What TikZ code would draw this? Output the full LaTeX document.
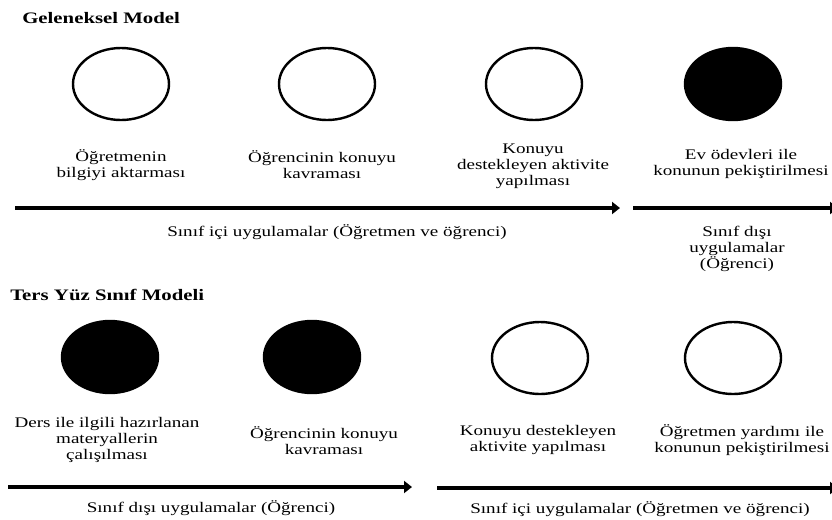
\documentclass[tikz,border=0pt]{standalone}
\usepackage{fontspec}
\setmainfont{Liberation Serif}[FakeStretch=1.3]
\usetikzlibrary{positioning, arrows.meta, shapes.geometric}

\begin{document}
\begin{tikzpicture}[
  x=0.75pt, y=-0.75pt,
  font=\fontsize{11}{12}\selectfont,
  stage/.style={ellipse, draw, line width=1.8pt, minimum width=72pt, minimum height=54pt, fill=white},
  homework/.style={stage, fill=black},
  lbl/.style={align=center, inner sep=0pt},
  title/.style={anchor=west, inner sep=0pt, font=\fontsize{12}{13}\selectfont\bfseries},
  arr/.style={-{Triangle[length=6pt, width=9pt]}, line width=3.5pt}
]
  \useasboundingbox (0,0) rectangle (832,519);

  % Geleneksel Model
  \node[title] (t1) at (22,18) {Geleneksel Model};
  \node[stage]    (g1) at (121,84) {};
  \node[stage]    (g2) at (327,84) {};
  \node[stage]    (g3) at (534,84) {};
  \node[homework] (g4) at (733,84) {};
  \node[lbl] (gl1) at (121,165) {Öğretmenin\\bilgiyi aktarması};
  \node[lbl] (gl2) at (322,165) {Öğrencinin konuyu\\kavraması};
  \node[lbl] (gl3) at (533,166) {Konuyu\\destekleyen aktivite\\yapılması};
  \node[lbl] (gl4) at (741,164) {Ev ödevleri ile\\konunun pekiştirilmesi};
  \coordinate (ga) at (15,208);
  \coordinate (gb) at (620,208);
  \coordinate (gc) at (633,208);
  \coordinate (gd) at (838,208);
  \draw[arr] (ga) -- (gb);
  \draw[arr] (gc) -- (gd);
  \node[lbl] (gi) at (337,232) {Sınıf içi uygulamalar (Öğretmen ve öğrenci)};
  \node[lbl] (go) at (737,249) {Sınıf dışı\\uygulamalar\\(Öğrenci)};

  % Ters Yuz Sinif Modeli
  \node[title] (t2) at (10,295) {Ters Yüz Sınıf Modeli};
  \node[homework] (f1) at (110,357) {};
  \node[homework] (f2) at (312,357) {};
  \node[stage]    (f3) at (540,358) {};
  \node[stage]    (f4) at (733,358) {};
  \node[lbl] (fl1) at (107,440) {Ders ile ilgili hazırlanan\\materyallerin\\çalışılması};
  \node[lbl] (fl2) at (324,441) {Öğrencinin konuyu\\kavraması};
  \node[lbl] (fl3) at (538,440) {Konuyu destekleyen\\aktivite yapılması};
  \node[lbl] (fl4) at (742,440) {Öğretmen yardımı ile\\konunun pekiştirilmesi};
  \coordinate (fa) at (8,487);
  \coordinate (fb) at (412,487);
  \coordinate (fc) at (437,488);
  \coordinate (fd) at (838,488);
  \draw[arr] (fa) -- (fb);
  \draw[arr] (fc) -- (fd);
  \node[lbl] (fo) at (211,508) {Sınıf dışı uygulamalar (Öğrenci)};
  \node[lbl] (fi) at (640,509) {Sınıf içi uygulamalar (Öğretmen ve öğrenci)};
\end{tikzpicture}
\end{document}
